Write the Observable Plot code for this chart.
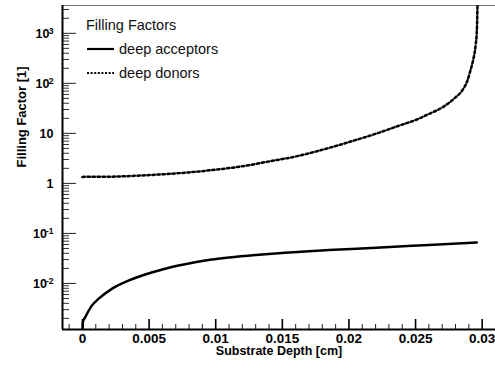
<!DOCTYPE html>
<html>
<head>
<meta charset="utf-8">
<script src="https://cdn.jsdelivr.net/npm/d3@7"></script>
<script src="https://cdn.jsdelivr.net/npm/@observablehq/plot@0.6"></script>
<style>
  html, body { margin: 0; padding: 0; background: #fff; }
  #wrap { position: relative; width: 495px; height: 365px; font-family: "Liberation Sans", Arial, sans-serif; }
  #legend { position: absolute; left: 86px; top: 13px; font-size: 14.5px; color: #111; line-height: 24px; }
  #legend .row { display: flex; align-items: center; height: 24px; }
  #legend svg { margin-right: 5px; }
</style>
</head>
<body>
<div id="wrap">
  <div id="legend">
    <div class="row">Filling Factors</div>
    <div class="row"><svg width="28" height="6"><line x1="1" x2="28" y1="3" y2="3" stroke="#000" stroke-width="2.2"/></svg>deep acceptors</div>
    <div class="row"><svg width="28" height="6"><line x1="1" x2="28" y1="3" y2="3" stroke="#000" stroke-width="2.2" stroke-dasharray="2,1.6"/></svg>deep donors</div>
  </div>
</div>
<script>
// Substrate depth [cm] and filling factors
const acceptorDepth = [0, 0.00003, 0.0002, 0.0007, 0.0012, 0.0022, 0.00345, 0.0047, 0.006, 0.0072, 0.00845, 0.0097, 0.011, 0.013, 0.0152, 0.0185, 0.0224, 0.026, 0.0296];
const acceptorFill  = [0.0009, 0.0017, 0.0021, 0.0036, 0.0049, 0.0078, 0.0114, 0.0151, 0.019, 0.0228, 0.0266, 0.0301, 0.033, 0.037, 0.041, 0.0465, 0.052, 0.059, 0.066];

const donorDepth = [0, 0.002, 0.004, 0.006, 0.008, 0.010, 0.012, 0.014, 0.016, 0.018, 0.020, 0.022, 0.024, 0.025, 0.026, 0.027, 0.028, 0.0285, 0.0289, 0.0291, 0.0293, 0.0295, 0.0296, 0.02965];
const donorFill  = [1.35, 1.36, 1.42, 1.52, 1.66, 1.88, 2.2, 2.75, 3.45, 4.7, 6.7, 9.8, 15, 18.5, 24.4, 33, 52.5, 72, 115, 174, 275, 560, 1120, 4000];

// Axis ticks
const xMajor = [0, 0.005, 0.01, 0.015, 0.02, 0.025, 0.03];
const xMajorLabels = ["0", "0.005", "0.01", "0.015", "0.02", "0.025", "0.03"];
const xMinor = [-0.001, 0.001, 0.002, 0.003, 0.004, 0.006, 0.007, 0.008, 0.009, 0.011, 0.012, 0.013, 0.014, 0.016, 0.017, 0.018, 0.019, 0.021, 0.022, 0.023, 0.024, 0.026, 0.027, 0.028, 0.029];
const yMajor = [0.01, 0.1, 1, 10, 100, 1000];
const yBase = ["10", "10", "1", "10", "10", "10"];
const yExp = ["-2", "-1", "", "", "2", "3"];
const yMinorMult = [2, 3, 4, 5, 6, 7, 8, 9];
const yMinorDecades = [0.001, 0.01, 0.1, 1, 10, 100, 1000];

const xDomain = [-0.0015, 0.031];
const yDomain = [0.0012, 3600];

const yMinor = [];
for (const dec of yMinorDecades) for (const m of yMinorMult) {
  const v = dec * m;
  if (v > yDomain[0] && v < yDomain[1]) yMinor.push(v);
}

const acceptors = acceptorDepth.map((d, i) => ({depth: d, fill: acceptorFill[i]}));
const donors = donorDepth.map((d, i) => ({depth: d, fill: donorFill[i]}));
const yLabels = yMajor.map((v, i) => ({v, base: yBase[i], exp: yExp[i]}));
const xLabels = xMajor.map((v, i) => ({v, label: xMajorLabels[i]}));

const font = "Liberation Sans, Arial, sans-serif";
const baseOffset = (d) => d.exp.length === 0 ? -9 : d.exp.length === 1 ? -13 : -15.5;

const chart = Plot.plot({
  width: 495,
  height: 365,
  marginLeft: 62,
  marginRight: 0,
  marginTop: 5,
  marginBottom: 36,
  style: {fontFamily: font, background: "#fff", overflow: "visible"},
  x: {domain: xDomain, label: null},
  y: {type: "log", domain: yDomain, label: null},
  marks: [
    // ticks (inside, ROOT style)
    Plot.axisX(xMinor, {tickSize: -5, tickFormat: () => "", stroke: "#222", strokeWidth: 1}),
    Plot.axisX(xMajor, {tickSize: -10, tickFormat: () => "", stroke: "#000", strokeWidth: 1.6}),
    Plot.axisY(yMinor, {tickSize: -7, tickFormat: () => "", stroke: "#333", strokeWidth: 1}),
    Plot.axisY(yMajor, {tickSize: -14, tickFormat: () => "", stroke: "#222", strokeWidth: 1}),
    // frame
    Plot.ruleY([yDomain[1]], {stroke: "#777", strokeWidth: 1}),
    Plot.ruleX([xDomain[0]], {stroke: "#000", strokeWidth: 2}),
    Plot.ruleY([yDomain[0]], {stroke: "#000", strokeWidth: 2}),
    // x tick labels
    Plot.text(xLabels, {x: "v", text: "label", frameAnchor: "bottom", lineAnchor: "top", dy: 3.5, fontSize: 13.5, fontWeight: "bold", fill: "#000"}),
    // y tick labels: base and exponent
    ...[-9, -13, -15.5].map(off => Plot.text(yLabels.filter(d => baseOffset(d) === off), {y: "v", text: "base", frameAnchor: "left", textAnchor: "end", dx: off, dy: 0.5, fontSize: 12.5, fontWeight: "bold", fill: "#000"})),
    Plot.text(yLabels.filter(d => d.exp), {y: "v", text: "exp", frameAnchor: "left", textAnchor: "end", dx: -9, dy: -2.5, fontSize: 8.5, fontWeight: "bold", fill: "#000"}),
    // curves
    Plot.line(acceptors, {x: "depth", y: "fill", stroke: "#000", strokeWidth: 2.5, clip: true, curve: "monotone-x"}),
    Plot.line(donors, {x: "depth", y: "fill", stroke: "#000", strokeWidth: 2.5, strokeDasharray: "2.4,2.6", clip: true, curve: "monotone-x"}),
    // axis titles
    Plot.text(["Substrate Depth [cm]"], {frameAnchor: "bottom", text: d => d, dy: 17, lineAnchor: "top", fontSize: 12.5, fontWeight: "bold", fill: "#000"}),
    Plot.text(["Filling Factor [1]"], {frameAnchor: "left", text: d => d, dx: -41, rotate: -90, fontSize: 13, fontWeight: "bold", fill: "#000"})
  ]
});

document.getElementById("wrap").prepend(chart);
</script>
</body>
</html>
